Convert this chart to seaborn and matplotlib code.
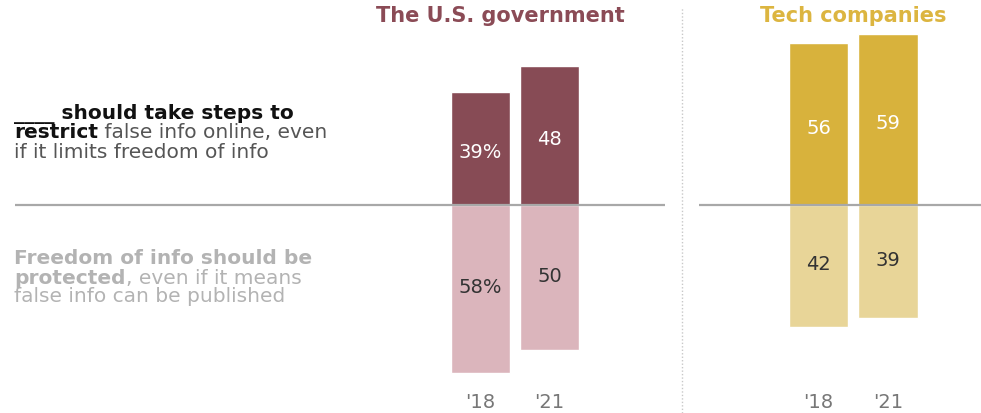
import matplotlib
matplotlib.use("Agg")
import matplotlib.pyplot as plt
import seaborn as sns
import pandas as pd

sns.set_theme(style="white")
plt.rcParams["font.family"] = ["DejaVu Sans"]

years = ["'18", "'21"]
gov_restrict = [39, 48]
gov_freedom = [58, 50]
tech_restrict = [56, 59]
tech_freedom = [42, 39]
gov_restrict_labels = ["39%", "48"]
gov_freedom_labels = ["58%", "50"]
tech_restrict_labels = ["56", "59"]
tech_freedom_labels = ["42", "39"]

GOV_DARK = "#874b55"
GOV_LIGHT = "#dbb5bc"
TECH_DARK = "#d8b23c"
TECH_LIGHT = "#e8d598"

W, H = 981, 413
fig = plt.figure(figsize=(W / 100, H / 100), dpi=100)

BASE_PX = 205      # baseline, pixels from top
PX_PER_PCT = 2.9
ylim = (-(H - BASE_PX) / PX_PER_PCT, BASE_PX / PX_PER_PCT)


def panel(x0, x1, c0, step, restrict, freedom, rl, fl, dark, light):
    ax = fig.add_axes([x0 / W, 0, (x1 - x0) / W, 1])
    df_r = pd.DataFrame({"year": years, "value": restrict})
    df_f = pd.DataFrame({"year": years, "value": [-v for v in freedom]})
    sns.barplot(data=df_r, x="year", y="value", order=years, color=dark,
                width=0.855, saturation=1, ax=ax)
    sns.barplot(data=df_f, x="year", y="value", order=years, color=light,
                width=0.855, saturation=1, ax=ax)
    left = -(c0 - x0) / step
    right = 1 + (x1 - (c0 + step)) / step
    ax.set_xlim(left, right)
    ax.set_ylim(*ylim)
    ax.axhline(0, color="#a8a8a8", lw=1.6, zorder=5)
    ax.axis("off")
    for i in range(len(years)):
        ax.text(i, restrict[i] / 2 - 1.5, rl[i], ha="center", va="center",
                color="white", fontsize=14)
        ax.text(i, -freedom[i] / 2 + 0.5, fl[i], ha="center", va="center",
                color="#333333", fontsize=14)
        ax.text(i, -(403 - BASE_PX) / PX_PER_PCT, years[i], ha="center",
                va="center", color="#777777", fontsize=14)
    return ax


panel(15, 665, 480.5, 69, gov_restrict, gov_freedom,
      gov_restrict_labels, gov_freedom_labels, GOV_DARK, GOV_LIGHT)
panel(699, 981, 818.5, 69.5, tech_restrict, tech_freedom,
      tech_restrict_labels, tech_freedom_labels, TECH_DARK, TECH_LIGHT)

# dotted separator between the two panels
fig.add_artist(plt.Line2D([682 / W, 682 / W], [0, 1 - 8 / H],
                          color="#c8c8c8", lw=1, ls=(0, (1, 1.5))))

fig.text(500 / W, 1 - 16 / H, "The U.S. government", ha="center",
         va="center", color="#8b4b56", fontsize=15, fontweight="bold")
fig.text(853 / W, 1 - 16 / H, "Tech companies", ha="center",
         va="center", color="#dcb540", fontsize=15, fontweight="bold")

fig.canvas.draw()
renderer = fig.canvas.get_renderer()


def line(y_px, parts, size=14.5):
    x = 14
    for txt, weight, color in parts:
        t = fig.text(x / W, 1 - y_px / H, txt, ha="left", va="center",
                     fontsize=size, fontweight=weight, color=color)
        bb = t.get_window_extent(renderer=renderer)
        x += bb.width


DARK_TXT = "#111111"
MID_TXT = "#555555"
PALE_TXT = "#b3b3b3"
line(114, [("____ should take steps to", "bold", DARK_TXT)])
line(133, [("restrict", "bold", DARK_TXT),
           (" false info online, even", "normal", MID_TXT)])
line(152, [("if it limits freedom of info", "normal", MID_TXT)])
line(259, [("Freedom of info should be", "bold", PALE_TXT)])
line(278, [("protected", "bold", PALE_TXT),
           (", even if it means", "normal", PALE_TXT)])
line(297, [("false info can be published", "normal", PALE_TXT)])

fig.savefig("out.png", dpi=100)
